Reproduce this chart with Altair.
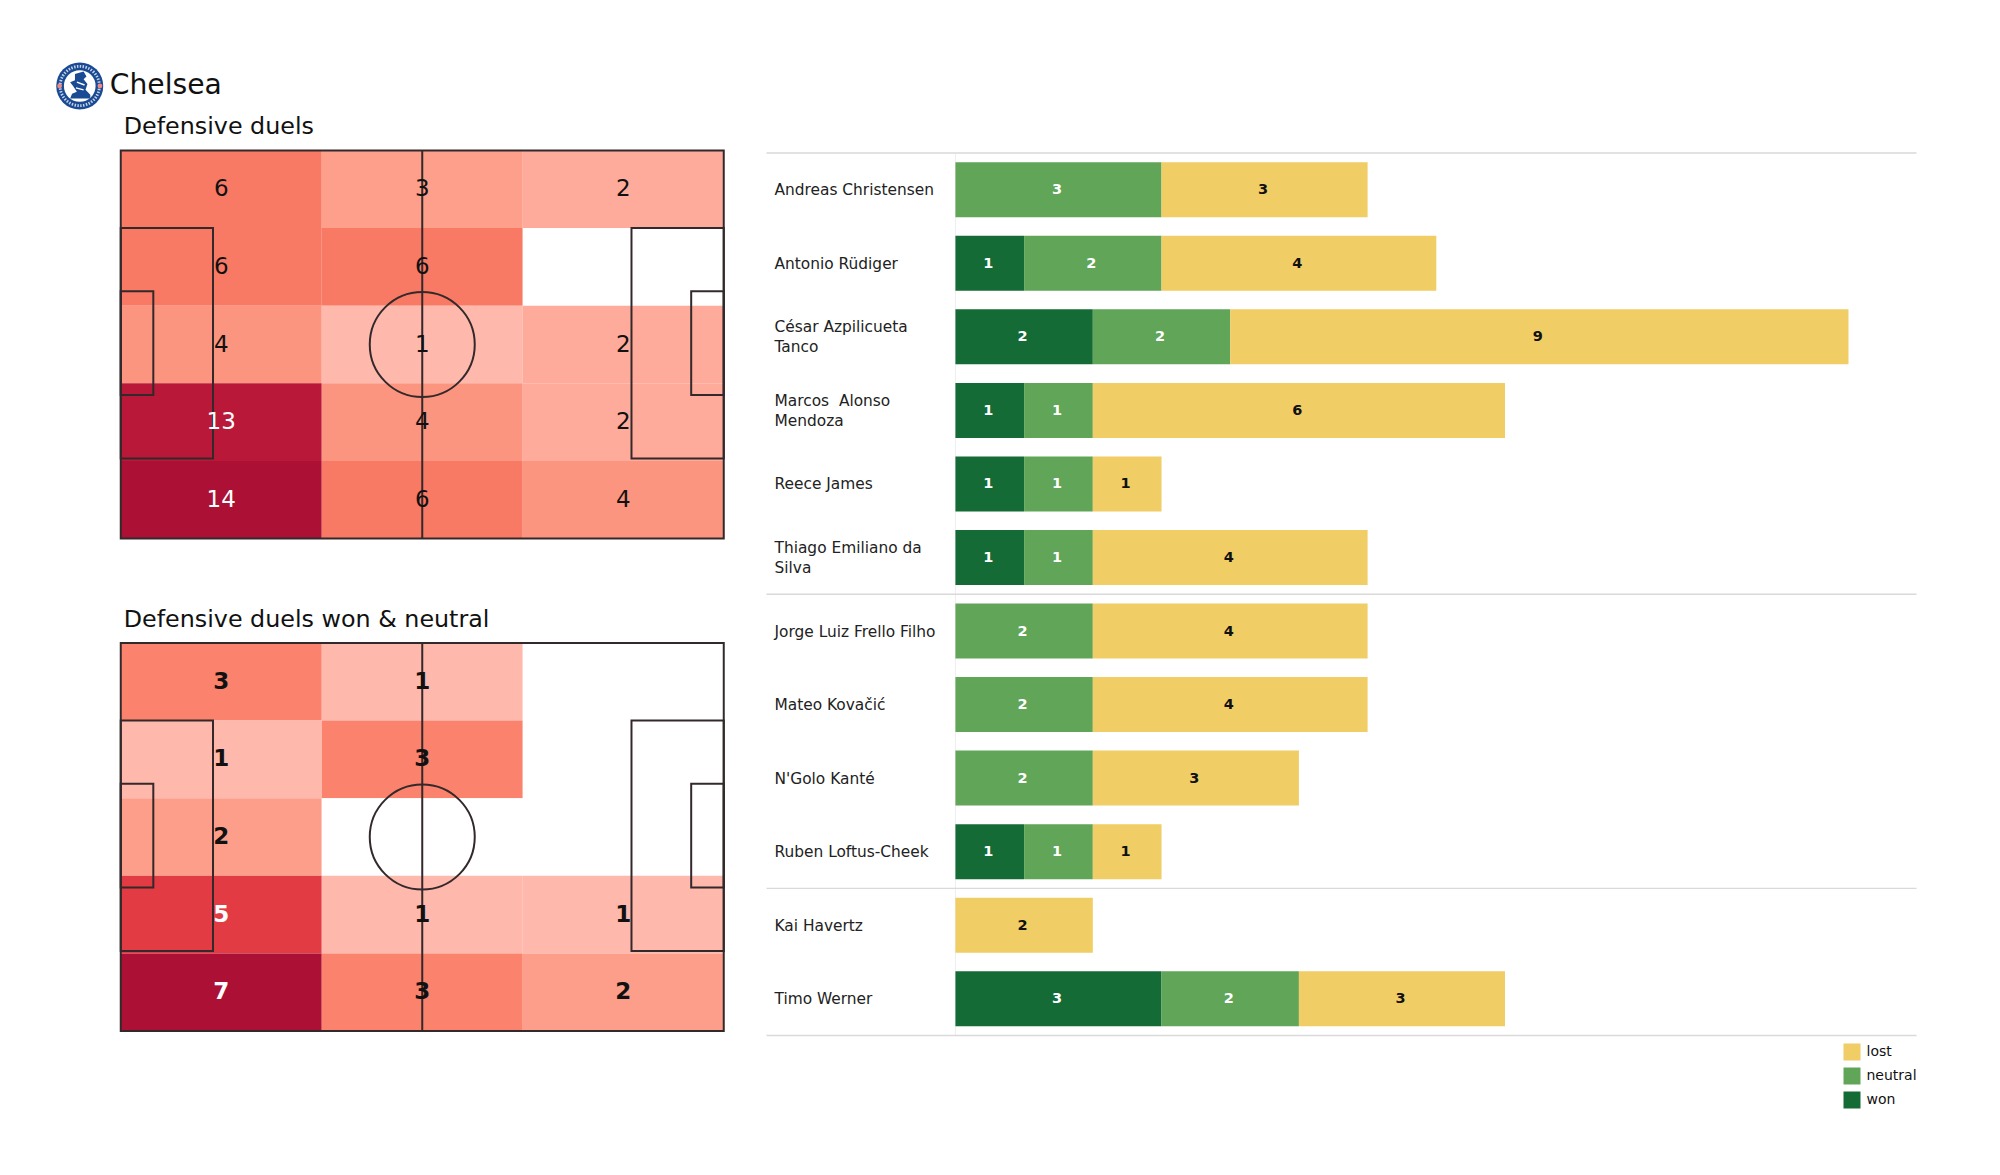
import urllib.parse
import altair as alt
import pandas as pd

FONT = "DejaVu Sans"

# ---- data ----
players = ["Andreas Christensen", "Antonio Rüdiger", "César Azpilicueta\nTanco",
           "Marcos \u00a0Alonso\nMendoza", "Reece James", "Thiago Emiliano da\nSilva",
           "Jorge Luiz Frello Filho", "Mateo Kovačić", "N'Golo Kanté",
           "Ruben Loftus-Cheek", "Kai Havertz", "Timo Werner"]
won     = [0, 1, 2, 1, 1, 1, 0, 0, 0, 1, 0, 3]
neutral = [3, 2, 2, 1, 1, 1, 2, 2, 2, 1, 0, 2]
lost    = [3, 4, 9, 6, 1, 4, 4, 4, 3, 1, 2, 3]
group_starts = ["Andreas Christensen", "Jorge Luiz Frello Filho", "Kai Havertz"]
group_end = ["Timo Werner"]
statuses = ["lost", "neutral", "won"]
status_colors = ["#f0cd65", "#60a558", "#156b36"]

duels = [[6, 3, 2], [6, 6, 0], [4, 1, 2], [13, 4, 2], [14, 6, 4]]
duels_won = [[3, 1, 0], [1, 3, 0], [2, 0, 0], [5, 1, 1], [7, 3, 2]]
duels_values = [0, 1, 2, 3, 4, 6, 13, 14]
duels_colors = ["#ffffff", "#ffb9ac", "#ffab9c", "#fd9f8b", "#fc957f", "#f87a64", "#ba1838", "#ac1035"]
won_values = [0, 1, 2, 3, 5, 7]
won_colors = ["#ffffff", "#ffb8ac", "#fd9e8b", "#fb826c", "#e33b43", "#ac1035"]

# pitch markings, in percent of pitch length / width
box_x0 = [0, 0, 84.7, 94.6, 0]
box_x1 = [15.3, 5.4, 100, 100, 100]
box_y0 = [20, 36.3, 20, 36.3, 0]
box_y1 = [79.4, 63, 79.4, 63, 100]

LINE = "#33292b"
PW, PH = 603, 388
BW, TOP, BH = 1150, 2.5, 885


def pitch(grid, values, colors, title, bold, white_from, extra=None):
    rows = []
    for r, row in enumerate(grid):
        for c, v in enumerate(row):
            rows.append(dict(x0=c * 100 / 3, x1=(c + 1) * 100 / 3, y0=r * 20, y1=(r + 1) * 20,
                             xm=(c + .5) * 100 / 3, ym=(r + .5) * 20, value=v))
    cells = pd.DataFrame(rows)
    xs = alt.Scale(domain=[0, 100], nice=False, zero=False)
    ys = alt.Scale(domain=[0, 100], nice=False, zero=False, reverse=True)
    base = alt.Chart(cells)
    heat = base.mark_rect(strokeWidth=0).encode(
        x=alt.X("x0:Q", scale=xs, axis=None), x2="x1:Q",
        y=alt.Y("y0:Q", scale=ys, axis=None), y2="y1:Q",
        color=alt.Color("value:O", scale=alt.Scale(domain=values, range=colors), legend=None))
    boxes = alt.Chart(pd.DataFrame(dict(x0=box_x0, x1=box_x1, y0=box_y0, y1=box_y1))).mark_rect(
        fill=None, stroke=LINE, strokeWidth=2).encode(
        x=alt.X("x0:Q", scale=xs, axis=None), x2="x1:Q",
        y=alt.Y("y0:Q", scale=ys, axis=None), y2="y1:Q")
    mid = alt.Chart(pd.DataFrame(dict(x=[50], y0=[0], y1=[100]))).mark_rule(
        color=LINE, strokeWidth=2).encode(
        x=alt.X("x:Q", scale=xs, axis=None),
        y=alt.Y("y0:Q", scale=ys, axis=None), y2="y1:Q")
    circle = alt.Chart(pd.DataFrame(dict(x=[50], y=[50]))).mark_point(
        filled=False, color=LINE, strokeWidth=2, opacity=1, size=11025).encode(
        x=alt.X("x:Q", scale=xs, axis=None), y=alt.Y("y:Q", scale=ys, axis=None))
    labels = base.transform_filter("datum.value > 0").mark_text(
        font=FONT, fontSize=23, fontWeight="bold" if bold else "normal").encode(
        x=alt.X("xm:Q", scale=xs, axis=None), y=alt.Y("ym:Q", scale=ys, axis=None),
        text="value:Q",
        color=alt.condition(f"datum.value >= {white_from}", alt.value("#ffffff"), alt.value("#111111")))
    heading = alt.Chart(pd.DataFrame(dict(title=[title]))).mark_text(
        font=FONT, fontSize=23.8, align="left", baseline="alphabetic", color="#111111").encode(
        x=alt.value(3), y=alt.value(-16.5), text="title:N")
    layers = [heat, boxes, mid, circle, labels, heading]
    if extra:
        layers += extra
    return alt.layer(*layers).properties(width=PW, height=PH)


# crest, drawn as an inline vector image
crest_svg = (
    "<svg xmlns='http://www.w3.org/2000/svg' viewBox='0 0 100 100'>"
    "<circle cx='50' cy='50' r='49' fill='#1a4a94'/>"
    "<circle cx='50' cy='50' r='41' fill='none' stroke='#ffffff' stroke-width='6' stroke-dasharray='3 3' opacity='0.75'/>"
    "<circle cx='50' cy='50' r='33' fill='#ffffff'/>"
    "<circle cx='8' cy='50' r='5' fill='#e88a8a'/><circle cx='92' cy='50' r='5' fill='#e88a8a'/>"
    "<path d='M40 25 L58 20 L64 30 L58 36 L66 46 L62 58 L72 68 L72 76 L30 76 L34 66 L44 62 L36 50 L30 42 L40 38 Z' fill='#1a4a94'/>"
    "<path d='M44 42 L60 48 M42 54 L58 58' stroke='#ffffff' stroke-width='3'/>"
    "</svg>")
crest_uri = "data:image/svg+xml," + urllib.parse.quote(crest_svg)
head = alt.Chart(pd.DataFrame(dict(team=["Chelsea"])))
crest = head.mark_image(width=48, height=48, align="center", baseline="middle").encode(
    x=alt.value(-41), y=alt.value(-64.5), url=alt.value(crest_uri))
team = head.mark_text(font=FONT, fontSize=28.2, align="left", baseline="alphabetic", color="#111111").encode(
    x=alt.value(-11), y=alt.value(-56.5), text="team:N")

left = alt.vconcat(
    pitch(duels, duels_values, duels_colors, "Defensive duels", False, 13, [crest, team]),
    pitch(duels_won, won_values, won_colors, "Defensive duels won & neutral", True, 5),
    spacing=104.5, bounds="flush").resolve_scale(color="independent")

# ---- stacked bars ----
rows = []
for p, w, n, l in zip(players, won, neutral, lost):
    s = 0
    for st, v in (("won", w), ("neutral", n), ("lost", l)):
        if v > 0:
            rows.append(dict(player=p, status=st, value=v, start=s, end=s + v, mid=s + v / 2))
            s += v
bars_df = pd.DataFrame(rows)
x_scale = alt.Scale(domain=[-2.75, 13.99], nice=False, zero=False)
y_scale = alt.Scale(domain=players, range=[TOP, BH], paddingInner=0, paddingOuter=0)
names = pd.DataFrame(dict(player=players))

zero_line = alt.Chart(pd.DataFrame(dict(x=[0]))).mark_rule(color="#eeeeee", strokeWidth=1).encode(
    x=alt.X("x:Q", scale=x_scale, axis=None), y=alt.value(TOP), y2=alt.value(BH))
rule_top = alt.Chart(pd.DataFrame(dict(player=group_starts))).mark_rule(color="#d9d9d9", strokeWidth=1.3).encode(
    y=alt.Y("player:N", scale=y_scale, axis=None, bandPosition=0))
rule_end = alt.Chart(pd.DataFrame(dict(player=group_end))).mark_rule(color="#d9d9d9", strokeWidth=1.3).encode(
    y=alt.Y("player:N", scale=y_scale, axis=None, bandPosition=1))
segs = alt.Chart(bars_df).mark_bar(size=55).encode(
    x=alt.X("start:Q", scale=x_scale, axis=None), x2="end:Q",
    y=alt.Y("player:N", scale=y_scale, axis=None),
    color=alt.Color("status:N", scale=alt.Scale(domain=statuses, range=status_colors),
                    legend=alt.Legend(title=None, orient="none", legendX=1077, legendY=893,
                                      symbolType="square", symbolSize=289, symbolStrokeWidth=0,
                                      rowPadding=7, padding=0, labelFont=FONT, labelFontSize=14,
                                      labelColor="#111111", labelOffset=6)))
seg_text = alt.Chart(bars_df).mark_text(font=FONT, fontSize=14.5, fontWeight="bold", dx=-1.5, dy=0.5).encode(
    x=alt.X("mid:Q", scale=x_scale, axis=None),
    y=alt.Y("player:N", scale=y_scale, axis=None),
    text="value:Q",
    color=alt.condition("datum.status == 'lost'", alt.value("#111111"), alt.value("#ffffff")))


def name_layer(test, dy):
    return alt.Chart(names).transform_filter(test).transform_calculate(
        line="split(datum.player, '\\n')").mark_text(
        font=FONT, fontSize=15.4, align="left", baseline="middle", lineHeight=20, dy=dy, color="#222222").encode(
        x=alt.value(8),
        y=alt.Y("player:N", scale=y_scale, axis=None),
        text="line:N")


one_line = name_layer("indexof(datum.player, '\\n') < 0", 0.5)
two_lines = name_layer("indexof(datum.player, '\\n') >= 0", -9.5)
bars = alt.layer(zero_line, rule_top, rule_end, segs, seg_text, one_line, two_lines).properties(width=BW, height=BH)

chart = alt.hconcat(left, bars, spacing=40.75).resolve_scale(color="independent").properties(
    padding={"left": 47.75, "top": 53.5, "right": 0, "bottom": 0},
    background="#ffffff"
).configure(font=FONT).configure_view(strokeWidth=0, stroke="transparent")

chart.save("out.html", embed_options={"renderer": "svg", "actions": False})
